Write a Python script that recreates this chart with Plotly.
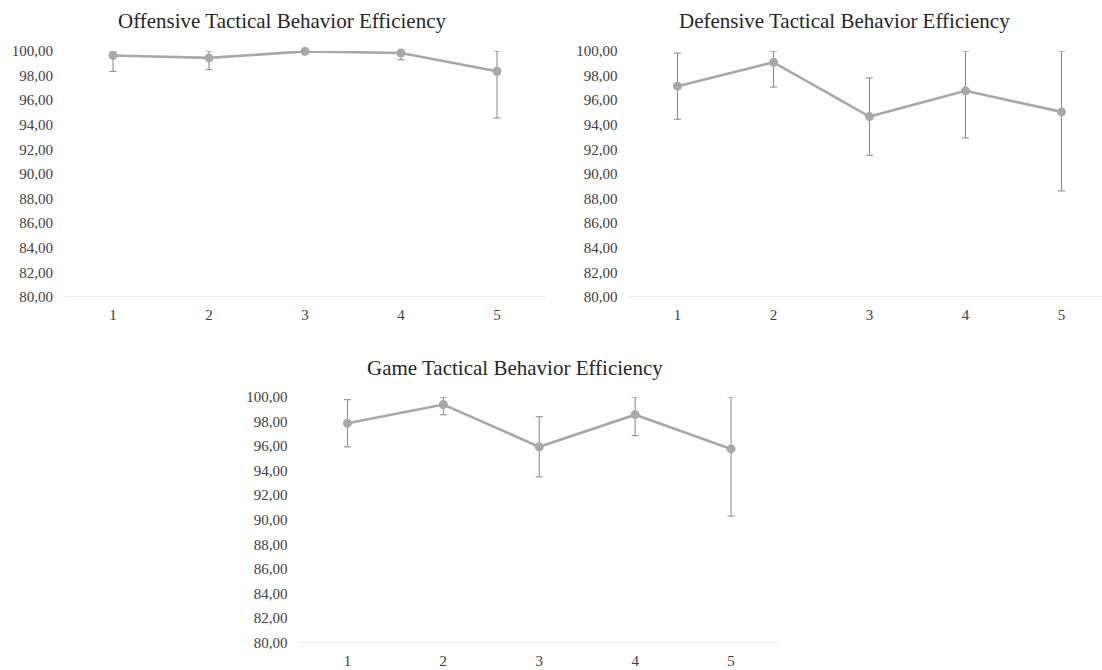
import plotly.graph_objects as go

categories = ["1", "2", "3", "4", "5"]
tick_vals = [80, 82, 84, 86, 88, 90, 92, 94, 96, 98, 100]
tick_text = ["80,00", "82,00", "84,00", "86,00", "88,00", "90,00",
             "92,00", "94,00", "96,00", "98,00", "100,00"]

offensive_mean = [99.64, 99.44, 99.97, 99.84, 98.35]
offensive_sd = [1.30, 0.96, 0.08, 0.55, 3.80]
defensive_mean = [97.14, 99.08, 94.67, 96.76, 95.05]
defensive_sd = [2.69, 2.01, 3.14, 3.83, 6.43]
game_mean = [97.86, 99.39, 95.94, 98.56, 95.77]
game_sd = [1.92, 0.84, 2.45, 1.71, 5.47]

titles = ["Offensive Tactical Behavior Efficiency",
          "Defensive Tactical Behavior Efficiency",
          "Game Tactical Behavior Efficiency"]

Y_MAX = 100
LINE_COLOR = "#aaa7a7"
ERR_COLOR = "#858585"
TEXT_COLOR = "#404040"
FONT = "Liberation Serif, Times New Roman, serif"

W, H = 1102, 670


def trace(mean, sd, xa, ya):
    plus = [min(m + s, Y_MAX) - m for m, s in zip(mean, sd)]
    return go.Scatter(
        x=categories, y=mean, xaxis=xa, yaxis=ya, mode="lines+markers",
        line=dict(color=LINE_COLOR, width=2.6),
        marker=dict(color=LINE_COLOR, size=9, symbol="circle"),
        error_y=dict(type="data", symmetric=False, array=plus, arrayminus=sd,
                     color=ERR_COLOR, thickness=1, width=3.5),
        cliponaxis=False, showlegend=False, hoverinfo="skip",
    )


fig = go.Figure()
fig.add_trace(trace(offensive_mean, offensive_sd, "x", "y"))
fig.add_trace(trace(defensive_mean, defensive_sd, "x2", "y2"))
fig.add_trace(trace(game_mean, game_sd, "x3", "y3"))

def xaxis(domain, rng):
    return dict(domain=domain, type="category", range=rng, showgrid=False,
                zeroline=False, showline=False, ticks="", ticklabelstandoff=7,
                tickfont=dict(family=FONT, size=15, color=TEXT_COLOR),
                fixedrange=True, automargin=False)

def yaxis(domain, anchor):
    return dict(domain=domain, anchor=anchor, range=[80, 100], tickvals=tick_vals,
                ticktext=tick_text, showgrid=False, zeroline=False,
                showline=False, ticks="", ticklabelstandoff=11,
                tickfont=dict(family=FONT, size=15, color=TEXT_COLOR),
                fixedrange=True, automargin=False)

top_dom = [1 - 297 / H, 1 - 51 / H]
bot_dom = [1 - 642.5 / H, 1 - 397 / H]

fig.update_layout(
    width=W, height=H, margin=dict(l=0, r=0, t=0, b=0, pad=0, autoexpand=False),
    autosize=False,
    paper_bgcolor="white", plot_bgcolor="white",
    xaxis=dict(xaxis([65 / W, 545 / W], [-0.5, 4.5]), anchor="y"),
    yaxis=yaxis(top_dom, "x"),
    xaxis2=dict(xaxis([629.5 / W, 1.0], [-0.5, 4.422]), anchor="y2"),
    yaxis2=yaxis(top_dom, "x2"),
    xaxis3=dict(xaxis([299.5 / W, 779 / W], [-0.5, 4.5]), anchor="y3"),
    yaxis3=yaxis(bot_dom, "x3"),
)

# x-axis baselines at 80 (light gray line)
for xa, ya in [("x", "y"), ("x2", "y2"), ("x3", "y3")]:
    fig.add_shape(type="line", xref=f"{xa} domain", yref=ya, x0=0, x1=1,
                  y0=80, y1=80, line=dict(color="#d9d9d9", width=1))

title_pos = [(282, 21), (844, 21), (515, 368)]
for t, (cx, cy) in zip(titles, title_pos):
    fig.add_annotation(text=t, x=cx / W, y=1 - cy / H, xref="paper", yref="paper",
                       showarrow=False, xanchor="center", yanchor="middle",
                       font=dict(family=FONT, size=21, color="#262626"))

fig.write_html(
    "out.html",
    config={"displayModeBar": False},
    post_script="document.body.style.margin='0';document.body.style.overflow='hidden';",
)
